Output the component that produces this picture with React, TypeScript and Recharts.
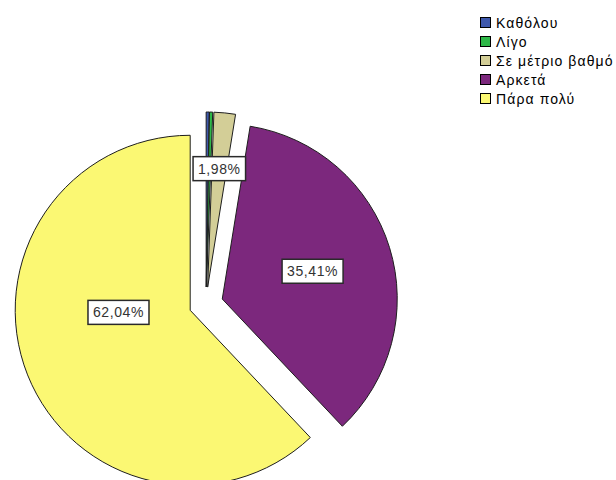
import { Cell, Legend, Pie, PieChart, Sector } from "recharts";

const categories = ["Καθόλου", "Λίγο", "Σε μέτριο βαθμό", "Αρκετά", "Πάρα πολύ"];
const percents = [0.28, 0.29, 1.98, 35.41, 62.04];
const percentLabels = ["", "", "1,98%", "35,41%", "62,04%"];
const colors = ["#3e58ac", "#2eb848", "#d3ce97", "#7c287d", "#fbf873"];

const data = categories.map((name, i) => ({ name, value: percents[i] }));

const FONT = "'Liberation Sans', Arial, sans-serif";
const RADIAN = Math.PI / 180;
const EXPLODE = 17;
// label distance from slice apex (fraction of radius) and angle nudge
const LABEL_R = [0.6, 0.6, 0.68, 0.54, 0.41];
const LABEL_SHIFT = [0, 0, 0, 0, -20];

const polar = (cx: number, cy: number, angle: number, r: number) => ({
  x: cx + Math.cos(-angle * RADIAN) * r,
  y: cy + Math.sin(-angle * RADIAN) * r,
});

const idx = (p: any) => {
  const name = p?.payload?.name ?? p?.name;
  const i = categories.indexOf(name);
  return i >= 0 ? i : p.index ?? 0;
};

function Slice(props: any) {
  const i = idx(props);
  const c = polar(props.cx, props.cy, props.midAngle, EXPLODE);
  return (
    <Sector
      {...props}
      cx={c.x}
      cy={c.y}
      fill={colors[i]}
      stroke="#1e1e1e"
      strokeWidth={1}
    />
  );
}

function SliceLabel(props: any) {
  const i = idx(props);
  const text = percentLabels[i];
  if (!text) return null;
  const c = polar(props.cx, props.cy, props.midAngle, EXPLODE);
  const p = polar(c.x, c.y, props.midAngle + LABEL_SHIFT[i], props.outerRadius * LABEL_R[i]);
  const w = text.length * 8.5 + 10;
  const h = 24;
  return (
    <g>
      <rect x={p.x - w / 2} y={p.y - h / 2} width={w} height={h} fill="#fff" stroke="#2a2a2a" strokeWidth={1.5} />
      <text x={p.x} y={p.y + 5} textAnchor="middle" fontSize={14} fontFamily={FONT} fill="#333" letterSpacing={0.6}>
        {text}
      </text>
    </g>
  );
}

function LegendBox() {
  return (
    <div style={{ fontFamily: FONT, fontSize: 14, color: "#000", letterSpacing: 1.1 }}>
      {categories.map((c, i) => (
        <div key={c} style={{ display: "flex", alignItems: "center", height: 19, whiteSpace: "nowrap" }}>
          <span
            style={{
              display: "inline-block",
              width: 9,
              height: 9,
              border: "1px solid #000",
              background: colors[i],
              marginRight: 5,
            }}
          />
          {c}
        </div>
      ))}
    </div>
  );
}

export default function App() {
  return (
    <div style={{ position: "fixed", left: 0, top: 0, background: "#fff" }}>
      <PieChart width={616} height={480} margin={{ top: 0, right: 0, bottom: 0, left: 0 }}>
        <Pie
          data={data}
          dataKey="value"
          nameKey="name"
          cx={206}
          cy={304}
          outerRadius={175}
          startAngle={90}
          endAngle={-270}
          stroke="#1e1e1e"
          strokeWidth={1}
          labelLine={false}
          label={SliceLabel}
          shape={Slice}
          isAnimationActive={false}
        >
          {data.map((d, i) => (
            <Cell key={d.name} fill={colors[i]} />
          ))}
        </Pie>
        <Legend
          layout="vertical"
          verticalAlign="top"
          align="right"
          wrapperStyle={{ position: "absolute", left: 480, top: 13, width: 136 }}
          content={() => <LegendBox />}
        />
      </PieChart>
    </div>
  );
}
